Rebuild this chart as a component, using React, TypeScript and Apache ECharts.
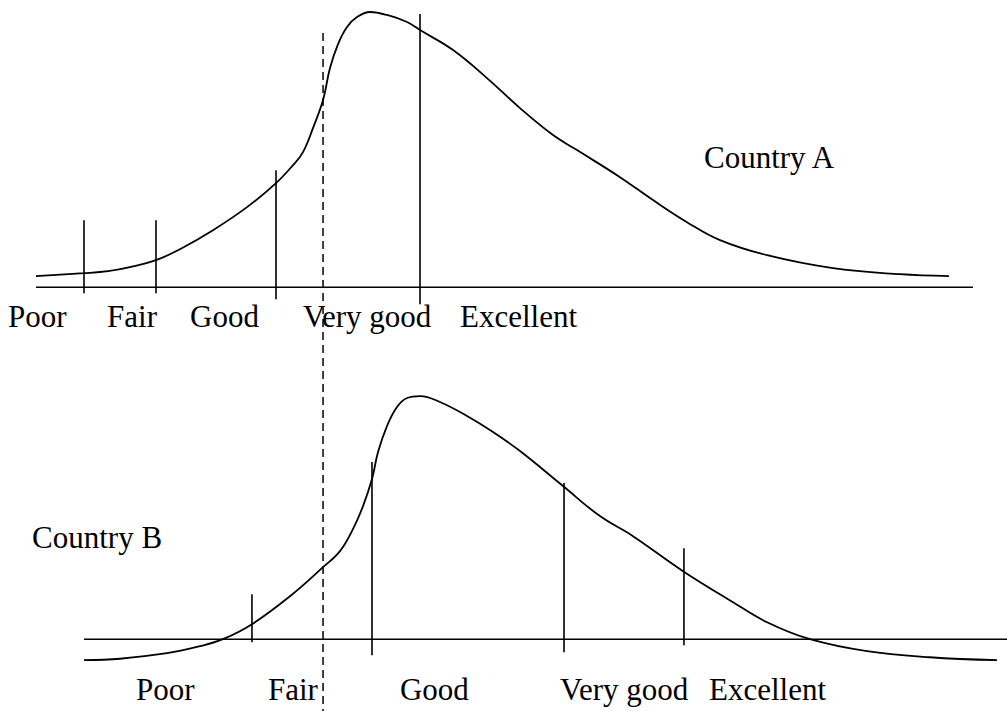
import React, { useEffect, useRef } from "react";
import * as echarts from "echarts";

// x: latent health index (0..100), y: density (scaled)
const curveA: [number, number][] = [
  [3.57, 1.92], [8.34, 2.44], [10.72, 2.79], [12.91, 3.48], [15.49, 4.7],
  [17.87, 6.62], [21.15, 9.93], [24.53, 13.94], [27.41, 18.12], [29.1, 21.25],
  [30.09, 23.52], [31.08, 27.7], [32.08, 32.58], [32.77, 38.16], [33.57, 42.33],
  [34.46, 45.3], [35.45, 47.04], [36.74, 47.91], [38.43, 47.39], [40.42, 46.17],
  [41.71, 44.77], [44.99, 41.29], [48.36, 36.41], [51.64, 31.18], [54.92, 26.48],
  [57.3, 23.87], [61.57, 19.16], [64.85, 15.16], [68.22, 11.32], [71.5, 8.19],
  [76.17, 5.57], [82.72, 3.31], [89.38, 2.26], [94.24, 1.92],
];

const curveB: [number, number][] = [
  [8.34, -3.66], [11.92, -3.4], [16.58, -2.44], [19.86, -1.22], [22.14, 0],
  [25.02, 2.61], [28.8, 7.49], [32.08, 12.54], [33.76, 15.33], [35.05, 19.16],
  [36.05, 23.17], [36.94, 27.87], [37.54, 32.58], [38.43, 37.11], [39.42, 40.42],
  [40.42, 41.99], [41.71, 42.33], [43.69, 41.29], [46.38, 38.85], [48.96, 36.06],
  [51.64, 32.75], [55.91, 26.66], [59.58, 21.43], [62.86, 17.94], [67.83, 11.85],
  [72.79, 6.45], [76.17, 2.96], [80.44, 0], [86.1, -2.09], [92.35, -3.14],
  [99.01, -3.66],
];

// thresholds: [x, top, bottom]
const cutsA: [number, number, number][] = [
  [8.34, 11.67, -1.05],
  [15.49, 11.67, -1.05],
  [27.41, 20.38, -2.09],
  [41.71, 47.56, -2.96],
];
const cutsB: [number, number, number][] = [
  [25.02, 7.84, -0.52],
  [36.94, 30.84, -2.79],
  [56.01, 27.18, -2.26],
  [67.92, 15.85, -1.05],
];

const baselineA = [3.57, 96.62];
const baselineB = [8.34, 100];

const categories = ["Poor", "Fair", "Good", "Very good", "Excellent"];
const labelXA = [0.79, 10.63, 18.87, 30.09, 45.68];
const labelXB = [13.51, 26.61, 39.72, 55.61, 70.41];
const labelYA = -5.05;
const labelYB = -8.71;

const countryA = { name: "Country A", x: 69.91, y: 22.65 };
const countryB = { name: "Country B", x: 3.18, y: 17.77 };

// dashed reference line (drawn in panel A coordinates, spanning both panels)
const dashed: [number, number, number] = [32.08, 44.25, -74.5];

const FONT = '31px "Liberation Serif", "Times New Roman", serif';

function lineItem(params: any, api: any) {
  const x = api.value(0);
  const p1 = api.coord([x, api.value(1)]);
  const p2 = api.coord([x, api.value(2)]);
  return {
    type: "line",
    shape: { x1: p1[0], y1: p1[1], x2: p2[0], y2: p2[1] },
    style: { stroke: "#000", lineWidth: 1.6 },
  };
}

function textItem(params: any, api: any) {
  const p = api.coord([api.value(0), api.value(1)]);
  return {
    type: "text",
    x: p[0],
    y: p[1],
    style: {
      text: api.value(2),
      font: FONT,
      fill: "#000",
      align: "left",
      verticalAlign: "middle",
    },
  };
}

export default function App() {
  const ref = useRef<HTMLDivElement>(null);
  useEffect(() => {
    if (!ref.current) return;
    const chart = echarts.init(ref.current, null, { renderer: "svg" });
    const xAx = (gi: number) => ({
      type: "value",
      gridIndex: gi,
      min: 0,
      max: 100,
      show: false,
    });
    const yAx = (gi: number) => ({
      type: "value",
      gridIndex: gi,
      min: -12.5,
      max: 50,
      show: false,
    });
    const lineStyleCurve = { color: "#000", width: 1.8 };
    chart.setOption({
      animation: false,
      backgroundColor: "#fff",
      grid: [
        { left: 0, right: 0, top: 0, height: 359 },
        { left: 0, right: 0, top: 352, height: 359 },
      ],
      xAxis: [xAx(0), xAx(1)],
      yAxis: [yAx(0), yAx(1)],
      series: [
        {
          type: "line",
          xAxisIndex: 0,
          yAxisIndex: 0,
          data: curveA,
          showSymbol: false,
          smooth: 0.4,
          lineStyle: lineStyleCurve,
          clip: false,
        },
        {
          type: "line",
          xAxisIndex: 1,
          yAxisIndex: 1,
          data: curveB,
          showSymbol: false,
          smooth: 0.4,
          lineStyle: lineStyleCurve,
          clip: false,
        },
        {
          type: "line",
          xAxisIndex: 0,
          yAxisIndex: 0,
          data: baselineA.map((x) => [x, 0]),
          showSymbol: false,
          lineStyle: { color: "#000", width: 1.6 },
        },
        {
          type: "line",
          xAxisIndex: 1,
          yAxisIndex: 1,
          data: baselineB.map((x) => [x, 0]),
          showSymbol: false,
          lineStyle: { color: "#000", width: 1.6 },
        },
        {
          type: "custom",
          xAxisIndex: 0,
          yAxisIndex: 0,
          data: cutsA,
          renderItem: lineItem,
        },
        {
          type: "custom",
          xAxisIndex: 1,
          yAxisIndex: 1,
          data: cutsB,
          renderItem: lineItem,
        },
        {
          type: "custom",
          xAxisIndex: 0,
          yAxisIndex: 0,
          data: [dashed],
          renderItem: (params: any, api: any) => {
            const x = api.value(0);
            const p1 = api.coord([x, api.value(1)]);
            const p2 = api.coord([x, api.value(2)]);
            return {
              type: "line",
              shape: { x1: p1[0], y1: p1[1], x2: p2[0], y2: p2[1] },
              style: { stroke: "#000", lineWidth: 1.5, lineDash: [8, 5] },
            };
          },
        },
        {
          type: "custom",
          xAxisIndex: 0,
          yAxisIndex: 0,
          data: [
            ...categories.map((c, i) => [labelXA[i], labelYA, c]),
            [countryA.x, countryA.y, countryA.name],
          ],
          dimensions: ["x", "y", { name: "t", type: "ordinal" }],
          renderItem: textItem,
        },
        {
          type: "custom",
          xAxisIndex: 1,
          yAxisIndex: 1,
          data: [
            ...categories.map((c, i) => [labelXB[i], labelYB, c]),
            [countryB.x, countryB.y, countryB.name],
          ],
          dimensions: ["x", "y", { name: "t", type: "ordinal" }],
          renderItem: textItem,
        },
      ],
    });
    return () => chart.dispose();
  }, []);
  return (
    <div
      ref={ref}
      style={{ position: "fixed", left: 0, top: 0, width: 1007, height: 711 }}
    />
  );
}
